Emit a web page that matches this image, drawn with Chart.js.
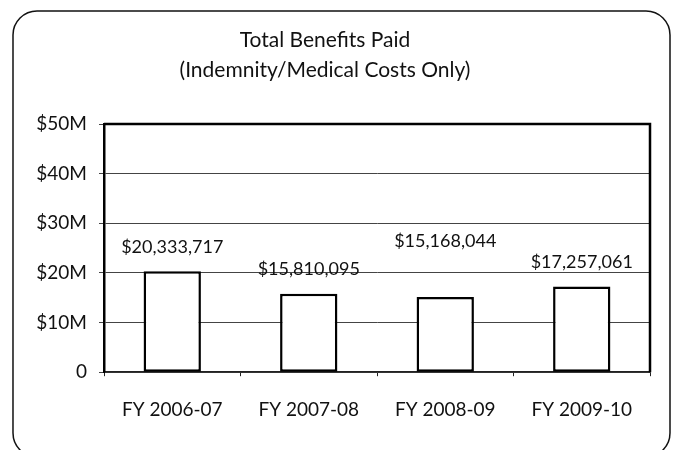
<!DOCTYPE html>
<html>
<head>
<meta charset="utf-8">
<script src="https://cdn.jsdelivr.net/npm/chart.js@4/dist/chart.umd.min.js"></script>
<style>
  html, body { margin: 0; padding: 0; background: #fff; }
  #wrap { width: 673px; height: 450px; position: relative; }
</style>
</head>
<body>
<div id="wrap"><canvas id="c" width="673" height="450"></canvas></div>
<script>
const categories = ['FY 2006-07', 'FY 2007-08', 'FY 2008-09', 'FY 2009-10'];
const benefitsPaid = [20333717, 15810095, 15168044, 17257061];
const yTickValues = [0, 10000000, 20000000, 30000000, 40000000, 50000000];
const yTickLabels = ['0', '$10M', '$20M', '$30M', '$40M', '$50M'];
const titleLines = ['Total Benefits Paid', '(Indemnity/Medical Costs Only)'];

const framePlugin = {
  id: 'frame',
  beforeDraw(chart) {
    const ctx = chart.ctx;
    ctx.save();
    ctx.fillStyle = '#fff';
    ctx.fillRect(0, 0, chart.width, chart.height);
    ctx.strokeStyle = '#111';
    ctx.lineWidth = 1.5;
    ctx.beginPath();
    ctx.roundRect(13, 11, 657, 446, 24);
    ctx.stroke();
    ctx.restore();
  },
  afterDatasetsDraw(chart, args, opts) {
    const ctx = chart.ctx;
    const a = chart.chartArea;
    ctx.save();
    ctx.strokeStyle = '#000';
    ctx.lineWidth = 2.5;
    ctx.beginPath();
    ctx.moveTo(a.left, a.top);
    ctx.lineTo(a.right, a.top);
    ctx.lineTo(a.right, a.bottom);
    ctx.stroke();
    // value labels
    const meta = chart.getDatasetMeta(0);
    ctx.fillStyle = '#111';
    ctx.font = '18px Lato';
    ctx.textAlign = 'center';
    ctx.textBaseline = 'middle';
    meta.data.forEach((bar, i) => {
      const v = chart.data.datasets[0].data[i];
      const txt = '$' + v.toLocaleString('en-US');
      ctx.fillText(txt, bar.x, bar.y - opts.offsets[i]);
    });
    ctx.restore();
  }
};

new Chart(document.getElementById('c'), {
  type: 'bar',
  data: {
    labels: categories,
    datasets: [{
      data: benefitsPaid,
      backgroundColor: '#fff',
      borderColor: '#000',
      borderWidth: 2.5,
      borderSkipped: false,
      categoryPercentage: 1,
      barPercentage: 0.42
    }]
  },
  options: {
    responsive: false,
    animation: false,
    devicePixelRatio: 1,
    layout: { padding: { top: 0, right: 23, bottom: 7, left: 0 } },
    plugins: {
      legend: { display: false },
      tooltip: { enabled: false },
      title: {
        display: true,
        text: titleLines,
        color: '#111',
        font: { family: 'Lato', size: 21, weight: 'normal', lineHeight: '30px' },
        padding: { top: 25, bottom: 39 }
      },
      frame: { offsets: [24, 25, 56, 24] }
    },
    scales: {
      x: {
        grid: { display: true, drawOnChartArea: false, offset: true, tickLength: 4, color: '#222', lineWidth: 1 },
        border: { display: true, color: '#222', width: 1.5 },
        ticks: { color: '#111', font: { family: 'Lato', size: 19 }, padding: 22, maxRotation: 0 }
      },
      y: {
        min: 0,
        max: 50000000,
        afterFit(scale) { scale.width = 104; },
        afterBuildTicks(scale) { scale.ticks = yTickValues.map(v => ({ value: v })); },
        grid: { color: '#444', lineWidth: 1, tickLength: 5 },
        border: { display: true, color: '#000', width: 2.5 },
        ticks: {
          color: '#111',
          font: { family: 'Lato', size: 19 },
          padding: 12,
          callback: (v) => yTickLabels[yTickValues.indexOf(v)]
        }
      }
    }
  },
  plugins: [framePlugin]
});
</script>
</body>
</html>
